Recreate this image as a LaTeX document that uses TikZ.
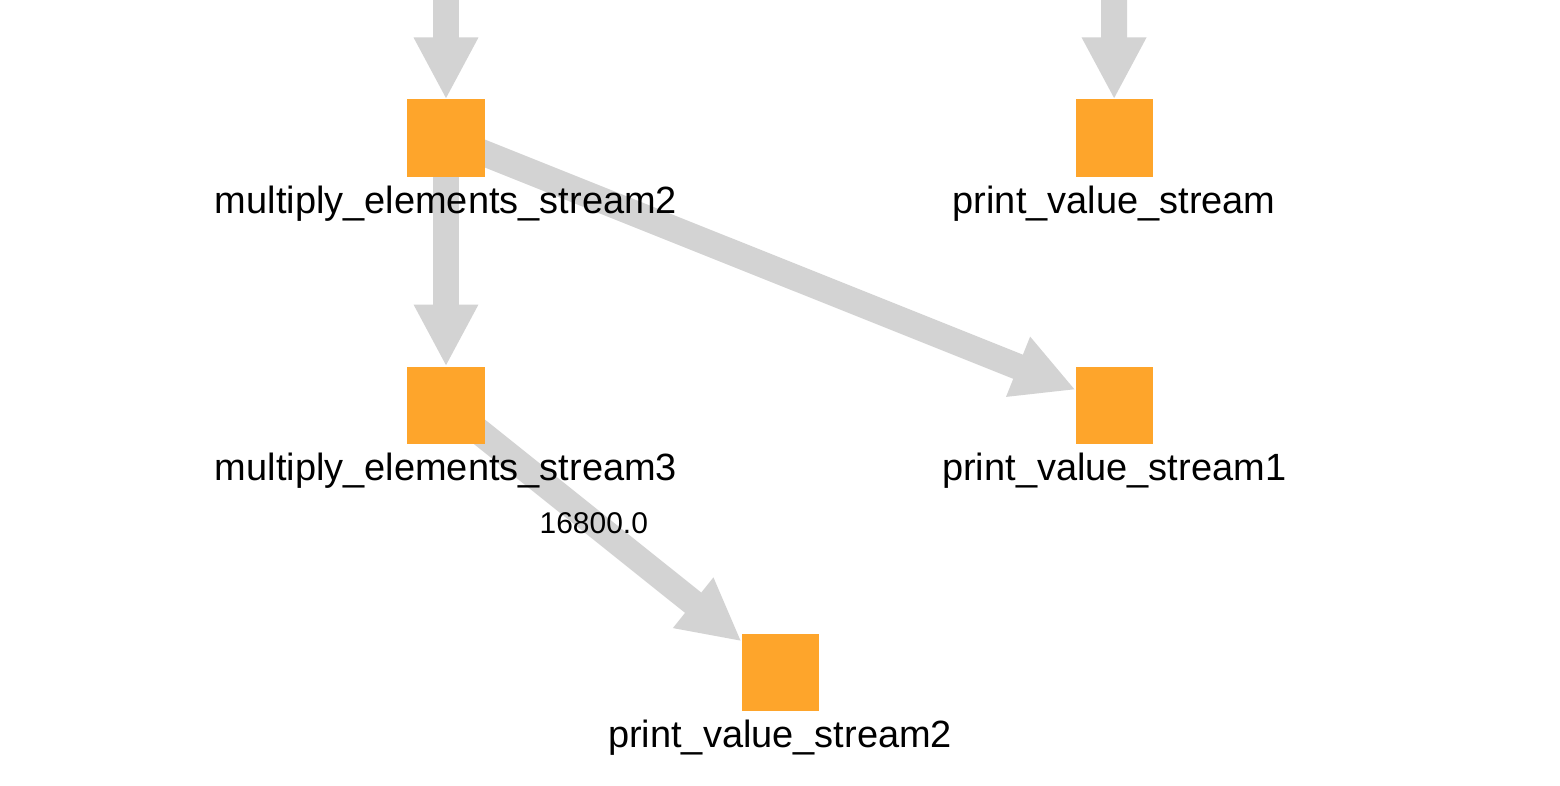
\documentclass[tikz,border=0pt]{standalone}
\usepackage{fontspec}
\setmainfont{Liberation Sans}
\usetikzlibrary{arrows.meta,positioning,backgrounds}
\definecolor{taskOrange}{RGB}{254,165,43}
\definecolor{flowGray}{RGB}{211,211,211}
\tikzset{%
  >={Triangle[width=1.5cm,length=1.55cm]},
  % Specifications for style of nodes:
        task/.style = {rectangle, fill=taskOrange, minimum size=1.925cm,
                       inner sep=0pt, outer sep=0pt},
    taskname/.style = {anchor=base, inner sep=0pt,
                       font=\fontsize{27}{32}\selectfont},
        flow/.style = {->, draw=flowGray, line width=0.65cm},
   flowlabel/.style = {inner sep=0pt, font=\fontsize{21.3}{25}\selectfont},
}

\begin{document}
\begin{tikzpicture}[x=0.025cm, y=-0.025cm, node distance=6.675cm]
  \useasboundingbox (0,0) rectangle (1560,786);
  % Specification of nodes (position, etc.)
  \node (multiplyBlock2) [task] at (446,138)                   {};
  \node (multiplyBlock3) [task, below of=multiplyBlock2]       {};
  \node (printBlock)     [task, right of=multiplyBlock2, xshift=10.025cm] {};
  \node (printBlock1)    [task, below of=printBlock]           {};
  \node (printBlock2)    [task, below of=multiplyBlock3, xshift=8.35cm]   {};
  % names under the squares
  \node (multiplyText2) [taskname, below=0.925cm of multiplyBlock2, anchor=base]
                                              {multiply\_elements\_stream2};
  \node (multiplyText3) [taskname, below=0.925cm of multiplyBlock3, anchor=base]
                                              {multiply\_elements\_stream3};
  \node (printText)     [taskname, below=0.925cm of printBlock, anchor=base]
                                              {print\_value\_stream};
  \node (printText1)    [taskname, below=0.925cm of printBlock1, anchor=base]
                                              {print\_value\_stream1};
  \node (printText2)    [taskname, below=0.925cm of printBlock2, anchor=base]
                                              {print\_value\_stream2};
  % Specification of lines between nodes specified above
  \begin{scope}[on background layer]
  \coordinate (multiplySource) at (446,-40);
  \coordinate (printSource)    at (1114,-40);
  \draw[flow]      (multiplySource) -- (multiplyBlock2);
  \draw[flow]         (printSource) -- (printBlock);
  \draw[flow]      (multiplyBlock2) -- (multiplyBlock3);
  \draw[flow] (multiplyBlock2.center) -- (printBlock1);
  \draw[flow] (multiplyBlock3.center) -- node[flowlabel] {16800.0}
                                         (printBlock2);
  \end{scope}
\end{tikzpicture}
\end{document}
